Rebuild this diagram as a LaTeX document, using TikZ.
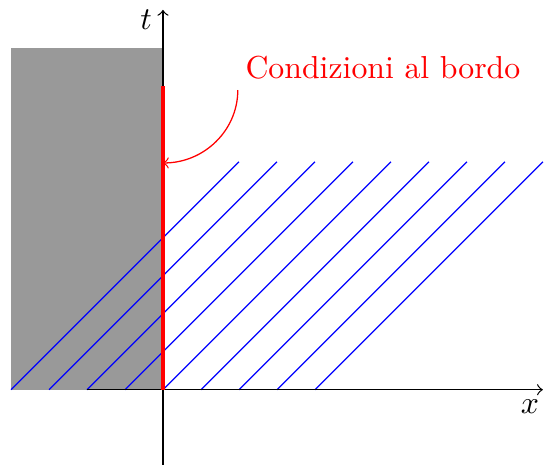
\documentclass[tikz,border=0pt]{standalone}
\usepackage{amsmath,amssymb}
\usepackage{tikz}
\usetikzlibrary{arrows.meta,calc,positioning}

\begin{document}
\begin{tikzpicture}[x=0.42cm,y=0.42cm,>=to]
  \useasboundingbox (-4.29,-1.97) rectangle (10.03,10.26);
  % region outside the domain
  \fill[black!40] (-4,0) rectangle (0,9);
  \foreach \s in {-4,...,4}{
    \draw[blue] (\s,0) -- ({\s+6},6);
  }
  \draw[->] (-2,0) -- (10,0) node[anchor=north east,inner sep=1pt,yshift=-2pt] (xlab) {$x$};
  \draw[->] (0,-2) -- (0,10) node[left,yshift=-3pt] (tlab) {$t$};
  \draw[red,very thick] (0,0) -- (0,8);
  % boundary label
  \node[red] (bordo) at (5.79,8.47) {Condizioni al bordo};
  \coordinate (bstart) at (1.97,7.89);
  \coordinate (bend) at (0,5.97);
  \draw[red,->] (bstart) to[out=-90,in=0] (bend);
\end{tikzpicture}
\end{document}
